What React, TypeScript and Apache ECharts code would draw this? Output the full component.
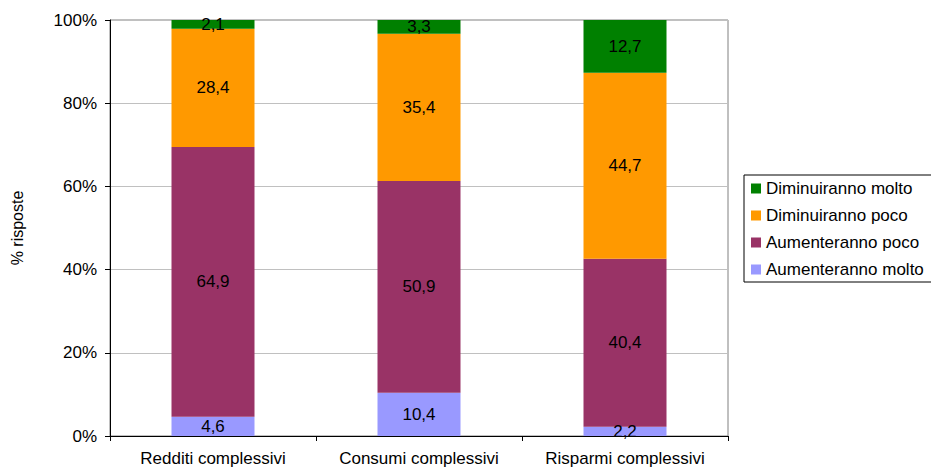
import React, { useEffect, useRef } from "react";
import * as echarts from "echarts";

const categories = ["Redditi complessivi", "Consumi complessivi", "Risparmi complessivi"];
const aumenteranoMolto = [4.6, 10.4, 2.2];
const aumenteranoPoco = [64.9, 50.9, 40.4];
const diminuirannoPoco = [28.4, 35.4, 44.7];
const diminuirannoMolto = [2.1, 3.3, 12.7];
const yTicks = [0, 20, 40, 60, 80, 100];

const FONT = "'Liberation Sans', Arial, sans-serif";
const FS = 17;

const fmt = (v: number) => v.toFixed(1).replace(".", ",");

function makeSeries(name: string, data: number[], color: string) {
  return {
    name,
    type: "bar",
    stack: "total",
    data,
    barWidth: 83,
    itemStyle: { color },
    label: {
      show: true,
      position: "inside",
      color: "#000",
      fontSize: FS,
      fontFamily: FONT,
      formatter: (p: any) => fmt(p.value),
    },
  };
}

export default function App() {
  const ref = useRef<HTMLDivElement>(null);
  useEffect(() => {
    if (!ref.current) return;
    const chart = echarts.init(ref.current, undefined, { renderer: "svg" });
    chart.setOption({
      animation: false,
      textStyle: { fontFamily: FONT },
      grid: {
        left: 110,
        right: 203,
        top: 20,
        bottom: 34,
        containLabel: false,
        outerBoundsMode: "none",
        show: true,
        borderColor: "#808080",
        borderWidth: 1,
      },
      legend: {
        orient: "vertical",
        left: 744,
        top: 175,
        data: ["Diminuiranno molto", "Diminuiranno poco", "Aumenteranno poco", "Aumenteranno molto"],
        icon: "rect",
        itemWidth: 10,
        itemHeight: 10,
        itemGap: 10,
        borderColor: "#000",
        borderWidth: 1,
        padding: [5, 14, 4, 7],
        textStyle: { color: "#000", fontSize: FS, fontFamily: FONT },
      },
      xAxis: {
        type: "category",
        data: categories,
        axisLine: { lineStyle: { color: "#000" } },
        axisTick: { show: true, length: 5, lineStyle: { color: "#000" } },
        axisLabel: { color: "#000", fontSize: FS, margin: 14, interval: 0, fontFamily: FONT },
      },
      yAxis: {
        type: "value",
        min: yTicks[0],
        max: yTicks[yTicks.length - 1],
        interval: 20,
        name: "% risposte",
        nameLocation: "middle",
        nameGap: 85,
        nameTextStyle: { color: "#000", fontSize: 16, fontFamily: FONT },
        axisLine: { show: true, lineStyle: { color: "#000" } },
        axisTick: { show: true, length: 5, lineStyle: { color: "#000" } },
        axisLabel: { color: "#000", fontSize: FS, margin: 13, formatter: "{value}%", fontFamily: FONT },
        splitLine: { lineStyle: { color: "#c0c0c0" } },
      },
      series: [
        makeSeries("Aumenteranno molto", aumenteranoMolto, "#9999FF"),
        makeSeries("Aumenteranno poco", aumenteranoPoco, "#993366"),
        makeSeries("Diminuiranno poco", diminuirannoPoco, "#FF9900"),
        makeSeries("Diminuiranno molto", diminuirannoMolto, "#008000"),
      ],
    });
    return () => chart.dispose();
  }, []);
  return <div ref={ref} style={{ width: 931, height: 470, position: "absolute", left: 0, top: 0 }} />;
}
